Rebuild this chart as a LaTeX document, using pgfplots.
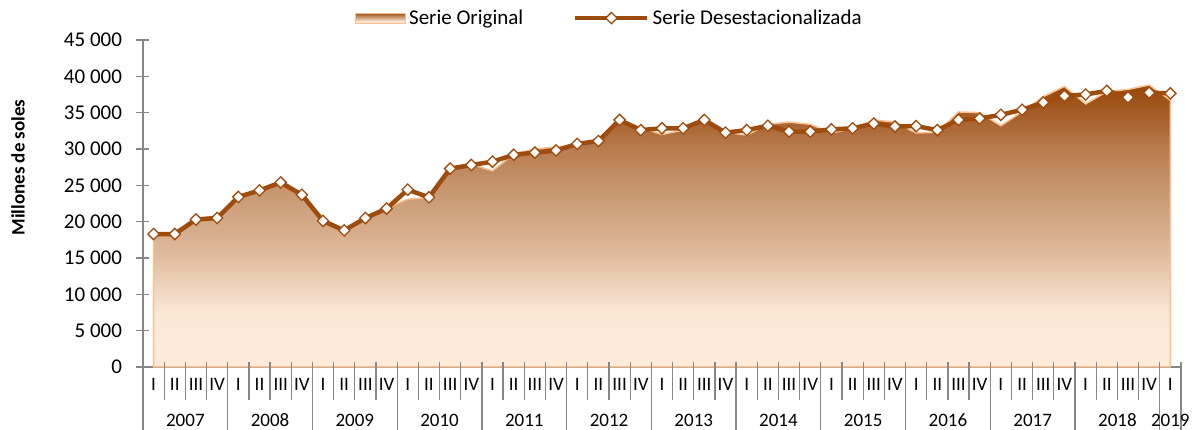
\documentclass[border=0pt]{standalone}
\usepackage{pgfplots}
\pgfplotsset{compat=1.18}
\usepackage{fontspec}
\setmainfont{Carlito}
\definecolor{lineb}{HTML}{9E4B0E}
\definecolor{peach}{HTML}{FAC08F}
\definecolor{axgray}{HTML}{878787}
\definecolor{shA}{HTML}{FDEBDC}
\definecolor{shB}{HTML}{FBE6D4}
\definecolor{shC}{HTML}{DDB798}
\definecolor{shD}{HTML}{CB9D77}
\definecolor{shE}{HTML}{B97D50}
\definecolor{shF}{HTML}{A8612E}
\definecolor{shG}{HTML}{974706}
\pgfdeclareverticalshading{areashade}{100bp}{color(0bp)=(shA); color(25bp)=(shA); color(35bp)=(shB); color(46bp)=(shC); color(54.5bp)=(shD); color(63.5bp)=(shE); color(69bp)=(shF); color(75bp)=(shG); color(100bp)=(shG)}
\begin{document}
\begin{tikzpicture}[font=\fontsize{21}{25}\selectfont]
\useasboundingbox (-143pt,-63pt) rectangle (1053pt,367pt);
\begin{axis}[
  at={(0,0)}, anchor=south west,
  scale only axis, width=1038pt, height=327pt,
  xmin=-0.5, xmax=48.5, ymin=0, ymax=45000,
  axis lines*=left,
  axis line style={axgray, line width=1.3pt},
  scaled y ticks=false,
  xtick={0,...,48},
  xticklabels={I,II,III,IV,I,II,III,IV,I,II,III,IV,I,II,III,IV,I,II,III,IV,I,II,III,IV,I,II,III,IV,I,II,III,IV,I,II,III,IV,I,II,III,IV,I,II,III,IV,I,II,III,IV,I},
  xtick style={draw=none},
  xticklabel style={anchor=center, yshift=-11pt, font=\fontsize{19}{22}\selectfont},
  ytick={0,5000,...,45000},
  yticklabels={0,5 000,10 000,15 000,20 000,25 000,30 000,35 000,40 000,45 000},
  major tick length=13pt, tick align=center,
  ytick style={axgray, line width=1.3pt},
  yticklabel style={anchor=east, xshift=-11pt},
  legend style={at={(rel axis cs:0.2042,1.067)}, anchor=west, draw=none, fill=none,
     legend columns=2, inner sep=0pt,
     /tikz/every odd column/.append style={column sep=3pt},
     /tikz/every even column/.append style={column sep=50pt},
     nodes={inner sep=0pt, anchor=west}},
  clip=false,
]
\addplot[draw=peach, line width=1.5pt, shading=areashade,
  legend image code/.code={\draw[shading=areashade, draw=peach, line width=1pt] (0pt,-5pt) rectangle (50pt,5pt);}]
 coordinates {
 (0,0) (0,18200) (1,18300) (2,20400) (3,20800) (4,23300) (5,24200) (6,25300) (7,23800)
 (8,19900) (9,18600) (10,20400) (11,21900) (12,23100) (13,23300) (14,27500) (15,27900)
 (16,27000) (17,29300) (18,30000) (19,30300) (20,30500) (21,31200) (22,34100) (23,32900)
 (24,32000) (25,32600) (26,34200) (27,32300) (28,31900) (29,33400) (30,33700) (31,33400)
 (32,32200) (33,32800) (34,34000) (35,33700) (36,32200) (37,32300) (38,35100) (39,35000)
 (40,33200) (41,35100) (42,37200) (43,38600) (44,36200) (45,37900) (46,38200) (47,38800)
 (48,36700) (48,0)} -- cycle;
\addlegendentry{Serie Original}
\addplot[lineb, line width=4.5pt, mark=square*,
  mark options={rotate=45, fill=white, draw=lineb, line width=1.3pt, mark size=4pt},
  legend image code/.code={\draw[lineb, line width=4.5pt] (0pt,0pt) -- (72pt,0pt);
     \draw[lineb, line width=1.3pt, fill=white, rotate around={45:(36pt,0pt)}] (32pt,-4pt) rectangle (40pt,4pt);}]
 coordinates {
 (0,18300) (1,18300) (2,20300) (3,20500) (4,23400) (5,24300) (6,25400) (7,23700)
 (8,20100) (9,18800) (10,20500) (11,21800) (12,24400) (13,23350) (14,27300) (15,27800)
 (16,28250) (17,29200) (18,29500) (19,29800) (20,30700) (21,31100) (22,34000) (23,32600)
 (24,32850) (25,32850) (26,34000) (27,32250) (28,32600) (29,33200) (30,32400) (31,32400)
 (32,32700) (33,32850) (34,33500) (35,33100) (36,33150) (37,32600) (38,34000) (39,34200)
 (40,34700) (41,35400) (42,36400) (43,37300) (44,37500) (45,38000) (46,37100) (47,37750)
 (48,37650)};
\addlegendentry{Serie Desestacionalizada}
\pgfplotsinvokeforeach{0.5,1.5,2.5,4.5,5.5,6.5,8.5,9.5,10.5,12.5,13.5,14.5,16.5,17.5,18.5,20.5,21.5,22.5,24.5,25.5,26.5,28.5,29.5,30.5,32.5,33.5,34.5,36.5,37.5,38.5,40.5,41.5,42.5,44.5,45.5,46.5}{
  \draw[axgray, line width=1.3pt] ([yshift=5pt]axis cs:#1,0) -- ([yshift=-33pt]axis cs:#1,0);
}
\pgfplotsinvokeforeach{-0.5,3.5,7.5,11.5,15.5,19.5,23.5,27.5,31.5,35.5,39.5,43.5,47.5,48.5}{
  \draw[axgray, line width=1.3pt] ([yshift=5pt]axis cs:#1,0) -- ([yshift=-64pt]axis cs:#1,0);
}
\node[font=\fontsize{19}{22}\selectfont] at ([yshift=-53pt]axis cs:1.5,0) {2007};
\node[font=\fontsize{19}{22}\selectfont] at ([yshift=-53pt]axis cs:5.5,0) {2008};
\node[font=\fontsize{19}{22}\selectfont] at ([yshift=-53pt]axis cs:9.5,0) {2009};
\node[font=\fontsize{19}{22}\selectfont] at ([yshift=-53pt]axis cs:13.5,0) {2010};
\node[font=\fontsize{19}{22}\selectfont] at ([yshift=-53pt]axis cs:17.5,0) {2011};
\node[font=\fontsize{19}{22}\selectfont] at ([yshift=-53pt]axis cs:21.5,0) {2012};
\node[font=\fontsize{19}{22}\selectfont] at ([yshift=-53pt]axis cs:25.5,0) {2013};
\node[font=\fontsize{19}{22}\selectfont] at ([yshift=-53pt]axis cs:29.5,0) {2014};
\node[font=\fontsize{19}{22}\selectfont] at ([yshift=-53pt]axis cs:33.5,0) {2015};
\node[font=\fontsize{19}{22}\selectfont] at ([yshift=-53pt]axis cs:37.5,0) {2016};
\node[font=\fontsize{19}{22}\selectfont] at ([yshift=-53pt]axis cs:41.5,0) {2017};
\node[font=\fontsize{19}{22}\selectfont] at ([yshift=-53pt]axis cs:45.5,0) {2018};
\node[font=\fontsize{19}{22}\selectfont] at ([yshift=-53pt]axis cs:48,0) {2019};
\node[rotate=90, font=\bfseries\fontsize{19}{22}\selectfont] at ([xshift=-125pt]rel axis cs:0,0.61) {Millones de soles};
\end{axis}
\end{tikzpicture}
\end{document}
